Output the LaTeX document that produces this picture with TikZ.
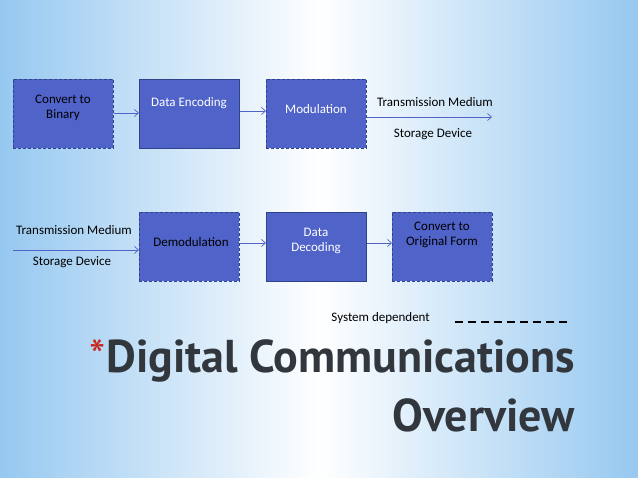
\documentclass[tikz,border=0pt]{standalone}
\usepackage{fontspec}
\setmainfont{Carlito}
\newfontfamily\titlefont{PT Sans}
\usetikzlibrary{arrows.meta}
\definecolor{boxfill}{RGB}{79,99,200}
\definecolor{boxline}{RGB}{47,66,140}
\definecolor{arrowc}{RGB}{80,100,200}
\definecolor{bgblue}{RGB}{150,200,240}
\definecolor{titlec}{RGB}{50,55,62}
\definecolor{astc}{RGB}{200,40,30}
\begin{document}
\begin{tikzpicture}[x=1pt,y=-1pt,
  blk/.style={draw=boxline,fill=boxfill,line width=0.8pt,minimum width=100pt,minimum height=69pt,inner sep=0pt,anchor=north west},
  dsh/.style={dashed,dash pattern=on 3pt off 2pt},
  lbl/.style={font=\fontsize{13}{15.5}\selectfont,align=center,inner sep=0pt},
  ttl/.style={anchor=base east,inner sep=0pt,text=titlec,font=\titlefont\bfseries\fontsize{46}{50}\selectfont},
  arr/.style={draw=arrowc,line width=0.7pt,-{Straight Barb[length=4pt,width=7pt]}}]
\shade[left color=bgblue,right color=bgblue,middle color=white] (0,0) rectangle (638,478);
\useasboundingbox (0,0) rectangle (638,478);
\node[blk,dsh] (b1) at (13,79) {};
\node[blk] (b2) at (139,79) {};
\node[blk,dsh] (b3) at (266,79) {};
\node[blk,dsh] (b4) at (139,212) {};
\node[blk] (b5) at (266,212) {};
\node[blk,dsh] (b6) at (392,212) {};
\node[lbl,text=black] (t1) at (63,108) {Convert to\\Binary};
\node[lbl,text=white] (t2) at (225,103) [anchor=center,xshift=-36pt] {Data Encoding};
\node[lbl,text=white] (t3) at (316,109) {Modulation};
\node[lbl,text=black] (t4) at (191,242) {Demodulation};
\node[lbl,text=white] (t5) at (316,241) {Data\\Decoding};
\node[lbl,text=black] (t6) at (442,235) {Convert to\\Original Form};
\coordinate (o1) at (492,117);
\coordinate (i1) at (13,250);
\draw[arr] (b1.east |- 0,113) -- (b2.west |- 0,113);
\draw[arr] (b2.east |- 0,111) -- (b3.west |- 0,111);
\draw[arr] (b3.east |- o1) -- (o1);
\draw[arr] (i1) -- (b4.west |- i1);
\draw[arr] (b4.east |- 0,243) -- (b5.west |- 0,243);
\draw[arr] (b5.east |- 0,243) -- (b6.west |- 0,243);
\node[lbl] (m1) at (435,102) {Transmission Medium};
\node[lbl] (s1) at (433,134) {Storage Device};
\node[lbl] (m2) at (74,230) {Transmission Medium};
\node[lbl] (s2) at (72,262) {Storage Device};
\node[lbl,anchor=east] (sd) at (430,318) {System dependent};
\coordinate (d1) at (455,322);
\coordinate (d2) at (570,322);
\draw[black,line width=1.3pt,dash pattern=on 8pt off 5pt] (d1) -- (d2);
\node[ttl] (ti1) at (575,373) {Digital Communications};
\node[ttl,text=astc,font=\titlefont\fontsize{46}{50}\selectfont] (ast) at (ti1.base west) {*};
\node[ttl] (ti2) at (575,432) {Overview};
\end{tikzpicture}
\end{document}
